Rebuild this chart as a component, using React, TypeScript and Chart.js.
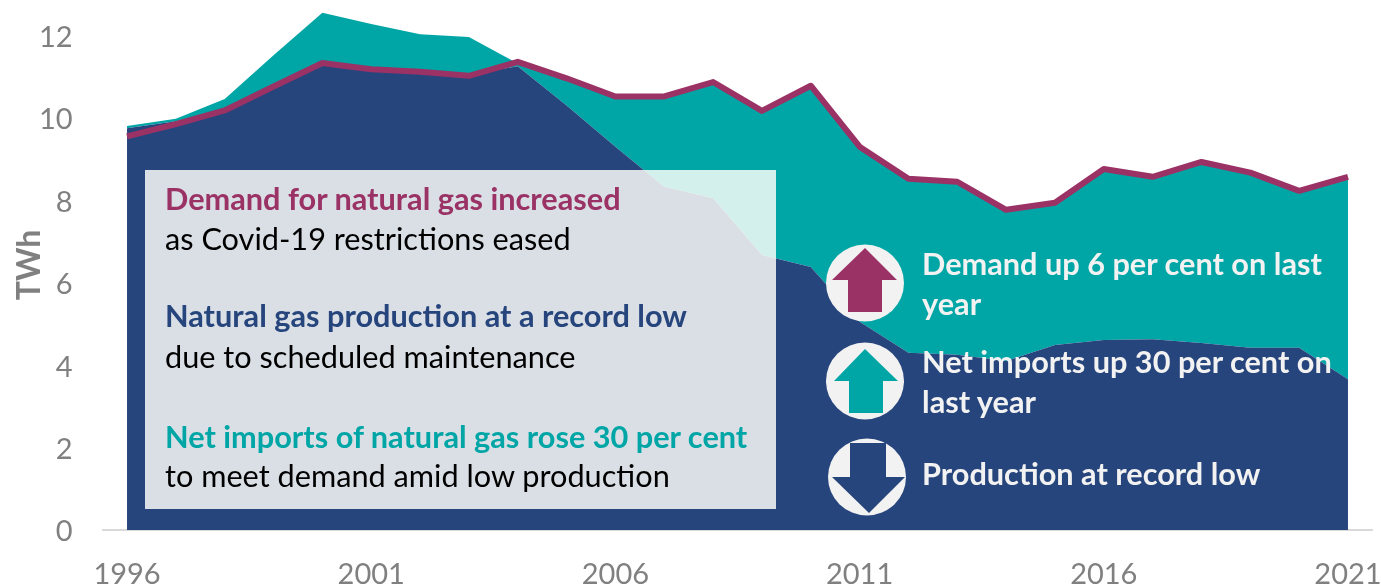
import React, { useEffect, useRef } from "react";
import { Chart, registerables } from "chart.js";

Chart.register(...registerables);

const years = ["1996","1997","1998","1999","2000","2001","2002","2003","2004","2005","2006","2007","2008","2009","2010","2011","2012","2013","2014","2015","2016","2017","2018","2019","2020","2021"];
const production = [9.75,9.92,10.22,10.8,11.35,11.2,11.15,11.05,11.25,10.3,9.3,8.33,8.05,6.67,6.38,5.05,4.3,4.25,4.1,4.49,4.61,4.63,4.54,4.42,4.42,3.66];
const netImports = [0.05,0.06,0.24,0.72,1.2,1.08,0.88,0.91,0.07,0.61,1.17,2.19,2.82,3.5,4.4,4.25,4.22,4.2,3.67,3.45,4.15,3.94,4.39,4.25,3.81,4.91];
const demand = [9.55,9.85,10.18,10.76,11.33,11.18,11.12,11.02,11.36,10.96,10.52,10.52,10.87,10.17,10.78,9.3,8.52,8.45,7.77,7.94,8.76,8.57,8.93,8.67,8.23,8.57];
const labelledYears = ["1996","2001","2006","2011","2016","2021"];

const NAVY = "#27457D";
const TEAL = "#00A6A6";
const PLUM = "#9A3265";
const GREY = "#808080";
const FONT = "Lato, sans-serif";
const NOTE_SIZE = 30.7;

type Note = { text: string; left: number; mid: number; color: string; bold: boolean };
const boxNotes: Note[] = [
  { text: "Demand for natural gas increased", left: 165, mid: 199, color: PLUM, bold: true },
  { text: "as Covid-19 restrictions eased", left: 165, mid: 239, color: "#000", bold: false },
  { text: "Natural gas production at a record low", left: 165, mid: 316, color: NAVY, bold: true },
  { text: "due to scheduled maintenance", left: 165, mid: 357, color: "#000", bold: false },
  { text: "Net imports of natural gas rose 30 per cent", left: 165, mid: 437, color: TEAL, bold: true },
  { text: "to meet demand amid low production", left: 165, mid: 476, color: "#000", bold: false },
];
const sideNotes: Note[] = [
  { text: "Demand up 6 per cent on last", left: 922, mid: 264, color: "#F2F2F2", bold: true },
  { text: "year", left: 922, mid: 304, color: "#F2F2F2", bold: true },
  { text: "Net imports up 30 per cent on", left: 922, mid: 362, color: "#F2F2F2", bold: true },
  { text: "last year", left: 922, mid: 402, color: "#F2F2F2", bold: true },
  { text: "Production at record low", left: 922, mid: 474, color: "#F2F2F2", bold: true },
];

function NoteText({ n }: { n: Note }) {
  return (
    <div
      style={{
        position: "absolute",
        left: n.left,
        top: n.mid,
        transform: "translateY(-50%)",
        whiteSpace: "nowrap",
        fontFamily: FONT,
        fontSize: NOTE_SIZE,
        fontWeight: n.bold ? 700 : 400,
        color: n.color,
        lineHeight: 1.2,
      }}
    >
      {n.text}
    </div>
  );
}

const clearPadding = (s: any) => {
  s.paddingLeft = 0;
  s.paddingRight = 0;
  s.paddingTop = 0;
  s.paddingBottom = 0;
};

export default function App() {
  const ref = useRef<HTMLCanvasElement>(null);
  useEffect(() => {
    const chart = new Chart(ref.current!, {
      type: "line",
      data: {
        labels: years,
        datasets: [
          { label: "Demand", data: demand, stack: "use", borderColor: PLUM, borderWidth: 6, pointRadius: 0, fill: false, tension: 0, borderJoinStyle: "round", borderCapStyle: "butt" },
          { label: "Natural gas production", data: production, stack: "supply", backgroundColor: NAVY, borderWidth: 0, pointRadius: 0, fill: "origin", tension: 0 },
          { label: "Net imports", data: netImports, stack: "supply", backgroundColor: TEAL, borderWidth: 0, pointRadius: 0, fill: "-1", tension: 0 },
        ],
      },
      options: {
        responsive: false,
        animation: false,
        layout: { autoPadding: false, padding: { left: 0, right: 8.6, top: 0, bottom: 0 } },
        plugins: { legend: { display: false }, tooltip: { enabled: false } },
        scales: {
          x: {
            offset: true,
            grid: { display: false },
            border: { display: true, color: "#D9D9D9", width: 2 },
            afterFit: (s: any) => { s.height = 57; clearPadding(s); },
            ticks: {
              color: GREY,
              font: { family: FONT, size: 29 },
              padding: 19,
              autoSkip: false,
              maxRotation: 0,
              minRotation: 0,
              callback: function (this: any, v: any) {
                const l = this.getLabelForValue(v);
                return labelledYears.includes(l) ? l : "";
              },
            },
          },
          y: {
            stacked: true,
            min: 0,
            max: 12.86,
            afterFit: (s: any) => { s.width = 102.6; clearPadding(s); },
            grid: { display: false, drawTicks: false },
            border: { display: false },
            ticks: { stepSize: 2, includeBounds: false, labelOffset: 2, color: GREY, font: { family: FONT, size: 29 }, padding: 30 },
            title: { display: true, text: "TWh", color: GREY, font: { family: FONT, size: 32, weight: "bold" }, padding: { top: 10, bottom: 0 } },
          },
        },
      },
    });
    return () => chart.destroy();
  }, []);

  return (
    <div style={{ position: "fixed", left: 0, top: 0, width: 1381, height: 587, background: "#fff", overflow: "hidden" }}>
      <canvas ref={ref} width={1381} height={587} style={{ position: "absolute", left: 0, top: 0, display: "block" }} />
      <div style={{ position: "absolute", left: 145, top: 170, width: 631, height: 339, background: "rgba(255,255,250,0.83)" }} />
      <svg width={1381} height={587} style={{ position: "absolute", left: 0, top: 0 }}>
        <ellipse cx={865} cy={283} rx={39} ry={38.5} fill="#F2F2F2" />
        <polygon points="865,248 897,280 882,280 882,312 848,312 848,280 832,280" fill={PLUM} />
        <ellipse cx={865} cy={381} rx={39} ry={38.5} fill="#F2F2F2" />
        <polygon points="865,349 898,381 883,381 883,413 849,413 849,381 834,381" fill={TEAL} />
        <ellipse cx={867} cy={477} rx={39} ry={38.5} fill="#F2F2F2" />
        <polygon points="850,443 886,443 886,477 905,477 869,513 832,477 850,477" fill={NAVY} />
      </svg>
      {boxNotes.map((n) => <NoteText key={n.text} n={n} />)}
      {sideNotes.map((n) => <NoteText key={n.text} n={n} />)}
    </div>
  );
}
